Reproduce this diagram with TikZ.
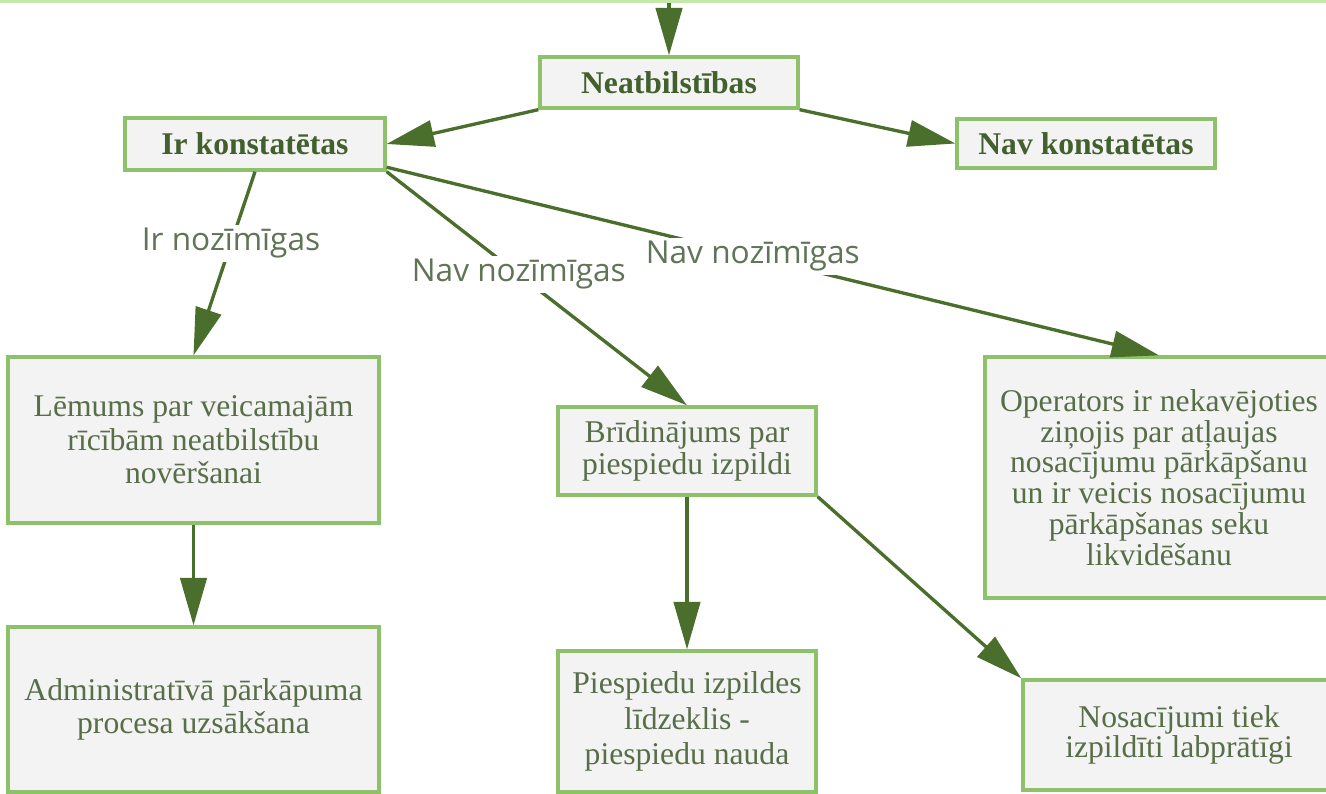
\documentclass[tikz,border=0pt]{standalone}
\usepackage{fontspec}
\setmainfont{Liberation Serif}
\newfontfamily\labelfont{Open Sans}
\usetikzlibrary{arrows.meta}
\definecolor{boxline}{RGB}{141,194,106}
\definecolor{topline}{RGB}{196,232,170}
\definecolor{boxfill}{RGB}{243,243,243}
\definecolor{arrowgreen}{RGB}{74,110,44}
\definecolor{textgreen}{RGB}{88,110,72}
\definecolor{headgreen}{RGB}{66,96,46}
\definecolor{labelgreen}{RGB}{96,116,86}

\begin{document}
\begin{tikzpicture}[x=0.02cm, y=-0.02cm,
  box/.style={draw=boxline, line width=1.9pt, fill=boxfill, text=textgreen, align=center, inner sep=0pt, font=\fontsize{18}{18.5}\selectfont},
  head/.style={box, text=headgreen, font=\fontsize{18}{18.5}\selectfont\bfseries},
  lbl/.style={fill=white, text=labelgreen, inner sep=2pt, font=\labelfont\fontsize{18}{20}\selectfont},
  arr/.style={draw=arrowgreen, line width=1.9pt, -{Triangle[length=27pt,width=15pt]}}]
\clip (0,0) rectangle (1326,794);
\fill[white] (0,0) rectangle (1326,794);
\node (Source) [draw=topline, line width=1.9pt, minimum width=27cm, minimum height=1.6cm] at (663,-39) {};
\node (Neat) [head, minimum width=5.16cm, minimum height=1.02cm] at (669,82.5) {Neatbilstības};
\node (IrKonst) [head, minimum width=5.2cm, minimum height=1.04cm] at (255,144) {Ir konstatētas};
\node (NavKonst) [head, minimum width=5.16cm, minimum height=0.98cm] at (1086,143.5) {Nav konstatētas};
\node (Lemums) [box, minimum width=7.42cm, minimum height=3.32cm, font=\fontsize{18}{19}\selectfont] at (193.5,440) {Lēmums par veicamajām\\rīcībām neatbilstību\\novēršanai};
\node (Admin) [box, minimum width=7.42cm, minimum height=3.3cm] at (193.5,709.5) {Administratīvā pārkāpuma\\procesa uzsākšana};
\node (Bridin) [box, minimum width=5.16cm, minimum height=1.76cm] at (687,451) {Brīdinājums par\\piespiedu izpildi};
\node (Piesp) [box, minimum width=5.16cm, minimum height=2.82cm, font=\fontsize{18}{20}\selectfont] at (687,721.5) {Piespiedu izpildes\\līdzeklis -\\piespiedu nauda};
\node (Operat) [box, minimum width=6.96cm, minimum height=4.82cm, font=\fontsize{18}{17.5}\selectfont] at (1159,477.5) {Operators ir nekavējoties\\ziņojis par atļaujas\\nosacījumu pārkāpšanu\\un ir veicis nosacījumu\\pārkāpšanas seku\\likvidēšanu};
\node (Nosac) [box, minimum width=6.24cm, minimum height=2.2cm, font=\fontsize{18}{17.5}\selectfont] at (1179,735) {Nosacījumi tiek\\izpildīti labprātīgi};
\draw[arr] (Neat.north |- Source.south) -- (Neat.north);
\draw[arr] (Neat.south west) -- (IrKonst.east);
\draw[arr] (Neat.south east) -- (NavKonst.west);
\draw[arr] (IrKonst.south) -- node[lbl, pos=0.39] (IrNoz) {Ir nozīmīgas} (Lemums.north);
\draw[arr] (IrKonst.south east) -- node[lbl, pos=0.44] (NavNozA) {Nav nozīmīgas} (Bridin.north);
\draw[arr] (IrKonst.-10) -- node[lbl, pos=0.474] (NavNozB) {Nav nozīmīgas} (Operat.north);
\draw[arr] (Lemums.south) -- (Admin.north);
\draw[arr] (Bridin.south) -- (Piesp.north);
\draw[arr] (Bridin.south east) -- (Nosac.north west);
\end{tikzpicture}
\end{document}
